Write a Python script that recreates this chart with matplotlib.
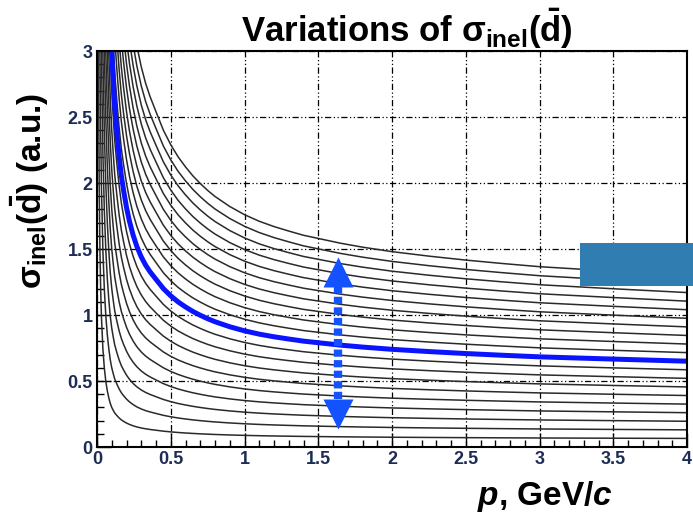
import numpy as np
import matplotlib.pyplot as plt
from matplotlib.patches import Rectangle

plt.rcParams['font.family'] = ['Liberation Sans', 'DejaVu Sans']
plt.rcParams['mathtext.fontset'] = 'custom'
plt.rcParams['mathtext.rm'] = 'Liberation Sans'
plt.rcParams['mathtext.bf'] = 'Liberation Sans:bold'
plt.rcParams['mathtext.bfit'] = 'Liberation Sans:italic:bold'
plt.rcParams['mathtext.it'] = 'Liberation Sans:italic'

# nominal curve (blue)
p_vals = [0.005, 0.007, 0.01, 0.015, 0.02, 0.025, 0.03, 0.04, 0.05, 0.06,
          0.07, 0.08, 0.09, 0.10, 0.11, 0.12, 0.135, 0.15, 0.165, 0.18,
          0.20, 0.22, 0.245, 0.27, 0.30, 0.33, 0.36, 0.40, 0.45, 0.50,
          0.55, 0.60, 0.65, 0.70, 0.75, 0.80, 0.90, 1.0, 1.1, 1.2, 1.3,
          1.4, 1.5, 1.65, 1.8, 2.0, 2.25, 2.5, 2.75, 3.0, 3.5, 4.0]
sigma_nominal = [59.4, 42.4, 29.7, 19.8, 14.8, 11.9, 9.9, 7.42, 5.94, 4.95,
                 4.25, 3.72, 3.3, 3.0, 2.78, 2.58, 2.38, 2.2, 2.055, 1.945,
                 1.815, 1.71, 1.605, 1.52, 1.44, 1.377, 1.327, 1.27, 1.2,
                 1.145, 1.099, 1.061, 1.027, 0.998, 0.972, 0.949, 0.911,
                 0.88, 0.855, 0.835, 0.818, 0.802, 0.79, 0.772, 0.757, 0.74,
                 0.723, 0.708, 0.695, 0.683, 0.666, 0.65]

# scale factors of the varied curves (black family)
scale_factors = [0.1, 0.2, 0.3, 0.4, 0.5, 0.6, 0.7, 0.8, 0.9, 1.0,
                 1.1, 1.2, 1.3, 1.4, 1.5, 1.6, 1.7, 1.8, 1.9, 2.0]

# double arrow showing the variation
arrow_p = 1.634
arrow_top = 1.44
arrow_bottom = 0.136

x_ticks = [0, 0.5, 1, 1.5, 2, 2.5, 3, 3.5, 4]
x_tick_labels = ['0', '0.5', '1', '1.5', '2', '2.5', '3', '3.5', '4']
y_ticks = [0, 0.5, 1, 1.5, 2, 2.5, 3]
y_tick_labels = ['0', '0.5', '1', '1.5', '2', '2.5', '3']

W, H = 693, 515
fig = plt.figure(figsize=(W / 100, H / 100), dpi=100)
ax = fig.add_axes([97 / W, 1 - 447 / H, 590 / W, 396 / H])

p = np.array(p_vals)
nominal = np.array(sigma_nominal)
for k in scale_factors:
    ax.plot(p, k * nominal, color='#2a2a2a', lw=1.1, zorder=3)
ax.plot(p, nominal, color='#0a14ff', lw=3.6, zorder=4, solid_capstyle='butt')

# arrow
head_h = 0.23
lw_shaft = 6.0
ax.plot([arrow_p, arrow_p], [arrow_bottom + head_h, arrow_top - head_h],
        color='#1452ff', lw=lw_shaft, dashes=(5.2 / lw_shaft, 2.4 / lw_shaft),
        solid_capstyle='butt', dash_capstyle='butt', zorder=6)
ax.plot(arrow_p, arrow_top - head_h / 2, marker='^', ms=21, color='#1452ff',
        mec='none', zorder=6)
ax.plot(arrow_p, arrow_bottom + head_h / 2, marker='v', ms=21, color='#1452ff',
        mec='none', zorder=6)

ax.set_xlim(0, 4)
ax.set_ylim(0, 3)
ax.set_xticks(x_ticks)
ax.set_xticklabels(x_tick_labels)
ax.set_yticks(y_ticks)
ax.set_yticklabels(y_tick_labels)
ax.set_xticks(np.arange(0, 4.01, 0.1), minor=True)
ax.set_yticks(np.arange(0, 3.01, 0.1), minor=True)
tick_color = '#1c2c55'
ax.tick_params(which='major', direction='in', length=10, width=1,
               labelsize=13, labelcolor=tick_color, pad=3)
ax.tick_params(which='minor', direction='in', length=5, width=1)
for lab in ax.get_xticklabels() + ax.get_yticklabels():
    lab.set_fontweight('bold')
ax.grid(True, which='major', color='black', lw=0.9,
        dashes=(5, 2, 1, 2, 1, 2), zorder=2)
for s in ax.spines.values():
    s.set_linewidth(1.5)
    s.set_zorder(7)

dbar = r'$\mathbf{\bar{d}}$'
fig.text(407 / W, 1 - 42 / H, 'Variations of σ$_{\\mathbf{inel}}$(' + dbar + ')',
         ha='center', va='baseline', fontsize=25, fontweight='bold')
fig.text(30 / W, 1 - 191 / H, 'σ$_{\\mathbf{inel}}$(' + dbar + ') (a.u.)',
         ha='center', va='center', rotation=90, fontsize=24,
         fontweight='bold')
fig.text(613 / W, 1 - 505 / H, '$\\mathbfit{p}$, GeV/$\\mathbfit{c}$',
         ha='right', va='baseline', fontsize=24, fontweight='bold')

fig.add_artist(Rectangle((580 / W, 1 - 286 / H), 120 / W, 43 / H,
                         transform=fig.transFigure, facecolor='#2f7db1',
                         edgecolor='none', zorder=10))

fig.savefig('out.png', dpi=100)
